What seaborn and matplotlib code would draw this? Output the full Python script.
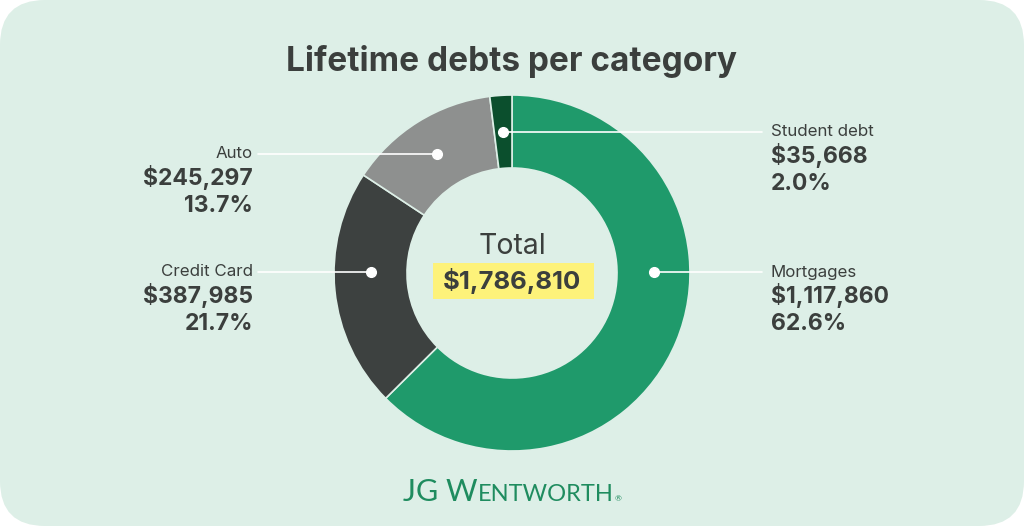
import matplotlib
matplotlib.use("Agg")
import matplotlib.pyplot as plt
from matplotlib.patches import FancyBboxPatch, Rectangle
import seaborn as sns
import numpy as np

# data (clockwise from 12 o'clock)
categories = ["Mortgages", "Credit Card", "Auto", "Student debt"]
values = [1117860, 387985, 245297, 35668]
value_labels = ["$1,117,860", "$387,985", "$245,297", "$35,668"]
pct_labels = ["62.6%", "21.7%", "13.7%", "2.0%"]
total_label = "$1,786,810"
title = "Lifetime debts per category"

colors = ["#1f9a6b", "#3d4140", "#8e908f", "#0b4f2d"]
bg = "#ddefe7"
txt = "#3b3f3d"

sns.set_theme(style="white")
plt.rcParams["font.family"] = ["Inter", "DejaVu Sans"]

W, H = 1024, 526
fig = plt.figure(figsize=(W / 100, H / 100), dpi=100)
fig.patch.set_facecolor("white")
ax = fig.add_axes([0, 0, 1, 1])


def Y(p):
    return H - p


ax.add_patch(FancyBboxPatch((0, 0), W, H, boxstyle="round,pad=0,rounding_size=45",
                            facecolor=bg, edgecolor="none", zorder=0))

cx, cy, R, ring = 512, Y(273), 178, 73
wedges, _ = ax.pie(values, colors=colors, startangle=90, counterclock=False,
                   center=(cx, cy), radius=R, frame=True,
                   wedgeprops=dict(width=ring, edgecolor=bg, linewidth=1.2))
ax.set_xlim(0, W)
ax.set_ylim(0, H)
ax.set_aspect("equal")
ax.axis("off")

ax.text(cx, Y(62), title, ha="center", va="center", fontsize=24, fontweight="bold", color=txt)

# centre text
ax.text(cx, Y(247), "Total", ha="center", va="center", fontsize=20.5, color=txt)
ax.add_patch(Rectangle((433, Y(299)), 161, 36, facecolor="#fdf27a", edgecolor="none", zorder=3))
ax.text(cx, Y(281), total_label, ha="center", va="center", fontsize=18.5, fontweight="bold",
        color=txt, zorder=4)

# callouts: dot angle, side, label row y (pixels)
mid = [(w.theta1 + w.theta2) / 2 for w in wedges]
anchor_angle = [0, 180, mid[2], mid[3]]
rows = [272, 272, 154, 132]
sides = ["right", "left", "left", "right"]
r_dot = R - ring / 2

for i, cat in enumerate(categories):
    a = np.deg2rad(anchor_angle[i])
    dx = cx + r_dot * np.cos(a)
    ly = Y(rows[i])
    if sides[i] == "right":
        x_end, tx, ha = 762, 771, "left"
    else:
        x_end, tx, ha = 258, 253, "right"
    ax.plot([dx, x_end], [ly, ly], color="white", lw=1.2, zorder=5)
    ax.plot([dx], [ly], "o", color="white", ms=7, zorder=6)
    ax.text(tx, ly, cat, ha=ha, va="center", fontsize=12.2, color=txt)
    ax.text(tx, ly - 24, value_labels[i], ha=ha, va="center", fontsize=16.5,
            fontweight="bold", color=txt)
    ax.text(tx, ly - 52, pct_labels[i], ha=ha, va="center", fontsize=16.5,
            fontweight="bold", color=txt)

# logo text
logo_green = "#1f8c5f"
logo_font = ["Lato", "DejaVu Sans"]
fig.canvas.draw()
r = fig.canvas.get_renderer()
t1 = ax.text(403, Y(501), "JG W", ha="left", va="baseline", fontsize=22, color=logo_green,
             family=logo_font)
bb = t1.get_window_extent(renderer=r)
t2 = ax.text(bb.x1, Y(501), "ENTWORTH", ha="left", va="baseline", fontsize=17,
             color=logo_green, family=logo_font)
bb2 = t2.get_window_extent(renderer=r)
ax.text(bb2.x1 + 1, Y(501), "®", ha="left", va="baseline", fontsize=6,
        color=logo_green, family=logo_font)

fig.savefig("out.png", dpi=100, facecolor="white")
